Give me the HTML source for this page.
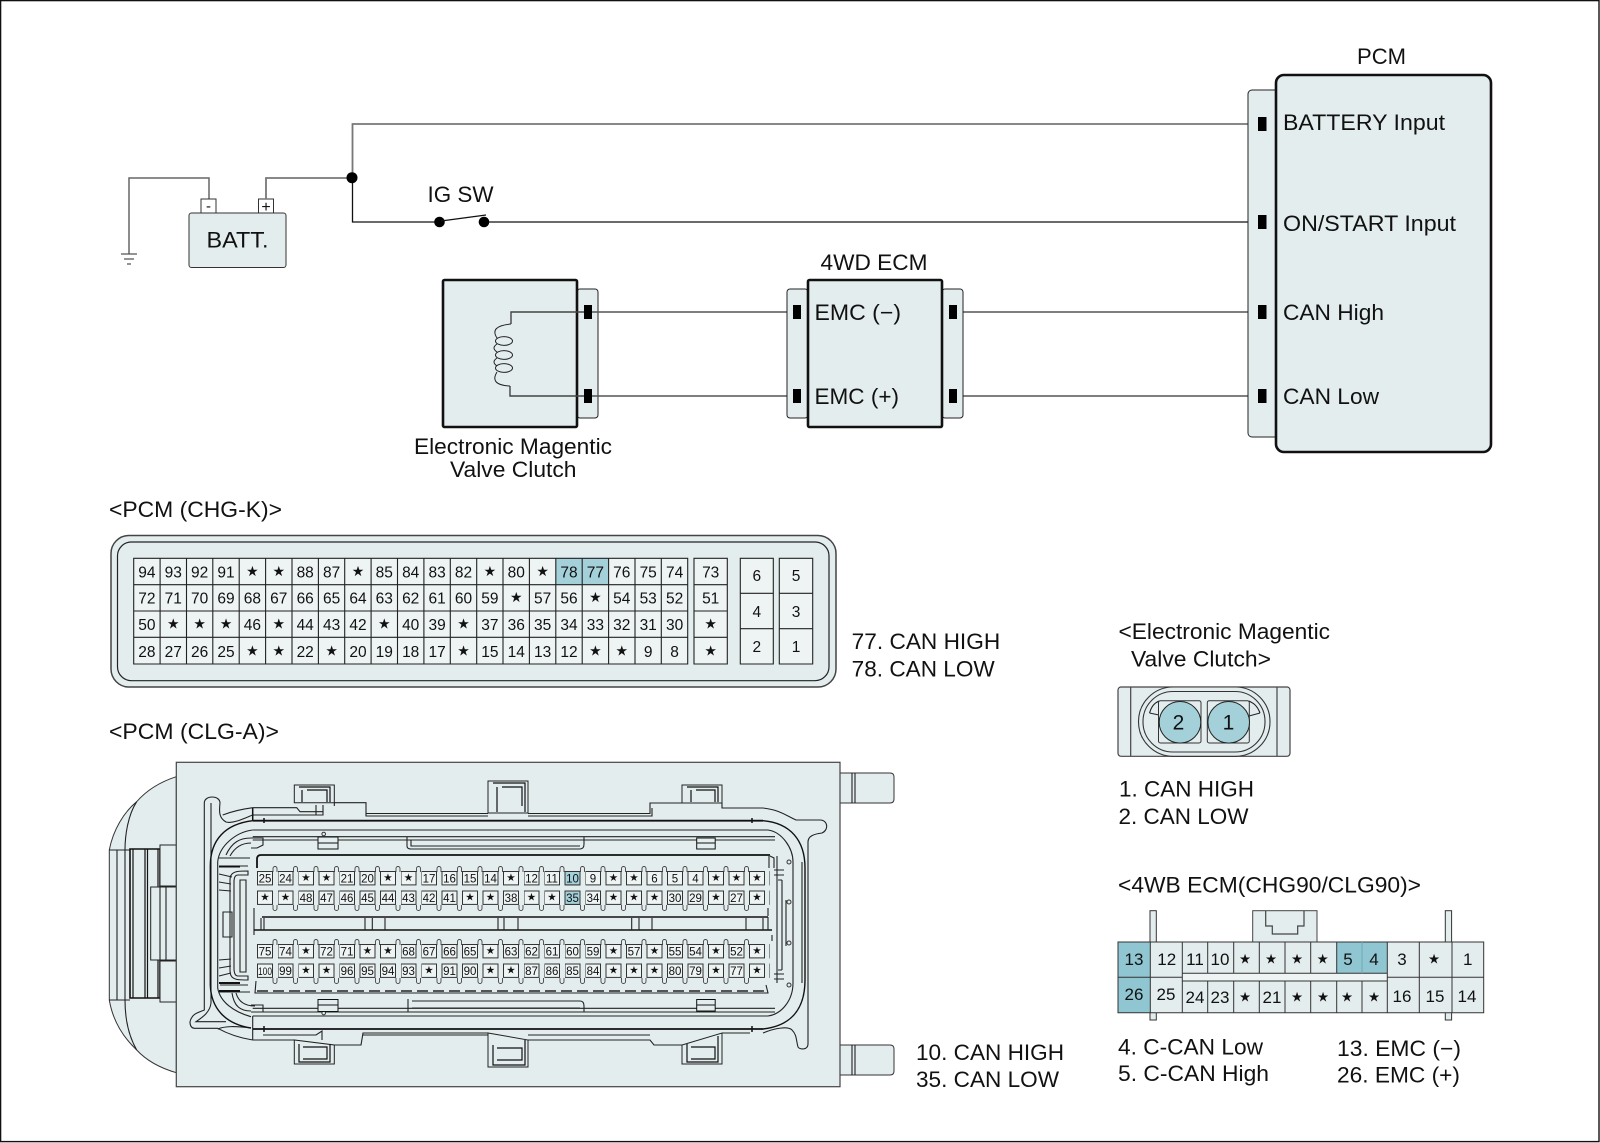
<!DOCTYPE html>
<html><head><meta charset="utf-8"><title>Diagram</title>
<style>
html,body{margin:0;padding:0;background:#fff}
svg{display:block}
text{font-family:"Liberation Sans",sans-serif;fill:#111}
.t{font-size:22px}
.k{fill:#e4edee;stroke:#222;stroke-width:1}
.b{fill:#e4edee;stroke:#111;stroke-width:2.6}
.l{fill:none;stroke:#222;stroke-width:1.1}
.m{text-anchor:middle}
.s{font-family:"DejaVu Sans",sans-serif;transform:translateY(-1.5px)}
.g1{font-size:15.5px;text-anchor:middle}.g1 .s{font-size:14px}
.g2{font-size:11.5px;text-anchor:middle}.g2 .s{font-size:10.5px}
.g3{font-size:17px;text-anchor:middle}.g3 .s{font-size:13.5px}
</style></head><body>
<svg xmlns="http://www.w3.org/2000/svg" width="1600" height="1143" viewBox="0 0 1600 1143">
<defs>
<pattern id="p" patternUnits="userSpaceOnUse" x="257" y="0" width="20.5" height="14.4"><rect x=".5" y=".5" width="15" height="13.4" fill="#eef3f3" stroke="#333" stroke-width="1"/></pattern>
<pattern id="u" patternUnits="userSpaceOnUse" x="257" y="0" width="20.5" height="6"><path d="M16 6V2.500a2 2 0 0 1 4 0V6" fill="none" stroke="#444" stroke-width=".9"/></pattern>
<pattern id="d" patternUnits="userSpaceOnUse" x="257" y="0" width="20.5" height="6"><path d="M16 0V3.500a2 2 0 0 0 4 0V0" fill="none" stroke="#444" stroke-width=".9"/></pattern>
</defs>
<rect width="1600" height="1143" fill="#fff"/>
<rect x=".6" y=".6" width="1598.400" height="1141" fill="none" stroke="#111" stroke-width="1.400"/>

<!-- battery and wiring -->
<path d="M129 254V178H209V199" fill="none" stroke="#666" stroke-width="1.500"/>
<path d="M121 254H137M124 259H134M127 264H131" fill="none" stroke="#555" stroke-width="1.300"/>
<rect x="201" y="199" width="15" height="14" fill="#fff" stroke="#333"/>
<rect x="258.500" y="199" width="15" height="14" fill="#fff" stroke="#333"/>
<text x="208.500" y="211" class="m" font-size="15">-</text>
<text x="266" y="212" class="m" font-size="16">+</text>
<rect x="189" y="213" width="97" height="54.500" rx="2.500" fill="#e4edee" stroke="#333"/>
<text x="206.500" y="247.700" class="t" textLength="62" lengthAdjust="spacingAndGlyphs">BATT.</text>
<path d="M266 199V178H352M352.500 178V124H1260" fill="none" stroke="#777" stroke-width="1.800"/>
<path d="M352.500 178V222H439M484 222H1260" fill="none" stroke="#111" stroke-width="1.300"/>
<ellipse cx="352" cy="177.700" rx="5.500" ry="5.500" fill="#000"/>
<circle cx="439.500" cy="222" r="5.300" fill="#000"/>
<circle cx="484" cy="222" r="5.300" fill="#000"/>
<path d="M441 221L486 215" stroke="#111" stroke-width="1.300"/>
<text x="427.500" y="202" class="t" textLength="66" lengthAdjust="spacingAndGlyphs">IG SW</text>

<!-- valve clutch -->
<rect x="577" y="289" width="21" height="129" rx="3" class="k"/>
<rect x="443" y="280" width="134" height="147" rx="1.500" class="b"/>
<path d="M590 312H511V324M590 396H510V386" fill="none" stroke="#444" stroke-width="1.400"/>
<path d="M511 324Q489 326 497 338M497 344Q491 348 497 352M497 358Q491 362 497 366M497 372Q489 385 510 386" fill="none" stroke="#222"/>
<ellipse cx="504" cy="341" rx="8.500" ry="4.400" fill="none" stroke="#222"/>
<ellipse cx="504" cy="355" rx="8.500" ry="4.400" fill="none" stroke="#222"/>
<ellipse cx="504" cy="368" rx="8.500" ry="4.400" fill="none" stroke="#222"/>
<rect x="584" y="305" width="8" height="14" fill="#000"/>
<rect x="584" y="389" width="8" height="14" fill="#000"/>
<text x="414" y="454" class="t" textLength="198" lengthAdjust="spacingAndGlyphs">Electronic Magentic</text>
<text x="450" y="477" class="t" textLength="126.500" lengthAdjust="spacingAndGlyphs">Valve Clutch</text>

<!-- ECM -->
<path d="M592 312H796M592 396H796M957 312H1260M957 396H1260" fill="none" stroke="#555" stroke-width="1.500"/>
<rect x="787" y="289" width="21" height="129" rx="3" class="k"/>
<rect x="942" y="289" width="21" height="129" rx="3" class="k"/>
<rect x="808" y="280" width="134" height="147" rx="1.500" class="b"/>
<rect x="793" y="305" width="8" height="14" fill="#000"/>
<rect x="793" y="389" width="8" height="14" fill="#000"/>
<rect x="949" y="305" width="8" height="14" fill="#000"/>
<rect x="949" y="389" width="8" height="14" fill="#000"/>
<text x="820.500" y="270" class="t" textLength="107" lengthAdjust="spacingAndGlyphs">4WD ECM</text>
<text x="814.500" y="320" class="t" textLength="86.500" lengthAdjust="spacingAndGlyphs">EMC (−)</text>
<text x="814.500" y="404" class="t" textLength="84.500" lengthAdjust="spacingAndGlyphs">EMC (+)</text>

<!-- PCM -->
<rect x="1248" y="90" width="35" height="347" rx="4" class="k"/>
<rect x="1276" y="75" width="215" height="377" rx="8" class="b"/>
<rect x="1258" y="117" width="8.500" height="14" fill="#000"/>
<rect x="1258" y="215" width="8.500" height="14" fill="#000"/>
<rect x="1258" y="305" width="8.500" height="14" fill="#000"/>
<rect x="1258" y="389" width="8.500" height="14" fill="#000"/>
<text x="1357" y="64" class="t" textLength="49" lengthAdjust="spacingAndGlyphs">PCM</text>
<text x="1283" y="130" class="t" textLength="162" lengthAdjust="spacingAndGlyphs">BATTERY Input</text>
<text x="1283" y="231" class="t" textLength="173" lengthAdjust="spacingAndGlyphs">ON/START Input</text>
<text x="1283" y="320" class="t" textLength="101" lengthAdjust="spacingAndGlyphs">CAN High</text>
<text x="1283" y="404" class="t" textLength="96" lengthAdjust="spacingAndGlyphs">CAN Low</text>

<!-- PCM CHG-K -->
<text x="109" y="517" class="t" textLength="173" lengthAdjust="spacingAndGlyphs">&lt;PCM (CHG-K)&gt;</text>
<rect x="111" y="535.500" width="725" height="151.500" rx="18" fill="#e4edee" stroke="#444" stroke-width="1.500"/>
<rect x="117.500" y="542" width="711.500" height="138.700" rx="14" fill="#e4edee" stroke="#222" stroke-width="1.200"/>
<rect x="133.700" y="558.300" width="554" height="105.700" fill="#eef3f3"/>
<rect x="555.500" y="558.300" width="52.800" height="26.400" fill="#a4d0da"/>
<path class="l" d="M133.700 558.300H687.700V664H133.700ZM133.700 584.700H687.700M133.700 611H687.700M133.700 637.300H687.700M160.100 558.300V664M186.500 558.300V664M212.800 558.300V664M239.200 558.300V664M265.600 558.300V664M292 558.300V664M318.400 558.300V664M344.700 558.300V664M371.100 558.300V664M397.500 558.300V664M423.900 558.300V664M450.300 558.300V664M476.700 558.300V664M503 558.300V664M529.400 558.300V664M555.800 558.300V664M582.200 558.300V664M608.600 558.300V664M635 558.300V664M661.300 558.300V664"/>
<path class="l" style="fill:#eef3f3" d="M694 558.300H727.300V664H694Z"/>
<path class="l" d="M694 584.700H727.300M694 611H727.300M694 637.300H727.300"/>
<path class="l" style="fill:#eef3f3" d="M740.300 558.300H773.300V664H740.300ZM779.300 558.300H812.700V664H779.300Z"/>
<path class="l" d="M740.300 593.300H773.300M740.300 628.700H773.300M779.300 593.300H812.700M779.300 628.700H812.700"/>
<g class="g1" transform="translate(0,577.300)"><text x="146.900">94</text><text x="173.300">93</text><text x="199.600">92</text><text x="226">91</text><text x="252.400" class="s">★</text><text x="278.800" class="s">★</text><text x="305.200">88</text><text x="331.600">87</text><text x="358" class="s">★</text><text x="384.300">85</text><text x="410.700">84</text><text x="437.100">83</text><text x="463.500">82</text><text x="489.900" class="s">★</text><text x="516.300">80</text><text x="542.600" class="s">★</text><text x="569">78</text><text x="595.400">77</text><text x="621.800">76</text><text x="648.200">75</text><text x="674.600">74</text><text x="710.700">73</text></g>
<g class="g1" transform="translate(0,603.500)"><text x="146.900">72</text><text x="173.300">71</text><text x="199.600">70</text><text x="226">69</text><text x="252.400">68</text><text x="278.800">67</text><text x="305.200">66</text><text x="331.600">65</text><text x="358">64</text><text x="384.300">63</text><text x="410.700">62</text><text x="437.100">61</text><text x="463.500">60</text><text x="489.900">59</text><text x="516.300" class="s">★</text><text x="542.600">57</text><text x="569">56</text><text x="595.400" class="s">★</text><text x="621.800">54</text><text x="648.200">53</text><text x="674.600">52</text><text x="710.700">51</text></g>
<g class="g1" transform="translate(0,630)"><text x="146.900">50</text><text x="173.300" class="s">★</text><text x="199.600" class="s">★</text><text x="226" class="s">★</text><text x="252.400">46</text><text x="278.800" class="s">★</text><text x="305.200">44</text><text x="331.600">43</text><text x="358">42</text><text x="384.300" class="s">★</text><text x="410.700">40</text><text x="437.100">39</text><text x="463.500" class="s">★</text><text x="489.900">37</text><text x="516.300">36</text><text x="542.600">35</text><text x="569">34</text><text x="595.400">33</text><text x="621.800">32</text><text x="648.200">31</text><text x="674.600">30</text><text x="710.700" class="s">★</text></g>
<g class="g1" transform="translate(0,657)"><text x="146.900">28</text><text x="173.300">27</text><text x="199.600">26</text><text x="226">25</text><text x="252.400" class="s">★</text><text x="278.800" class="s">★</text><text x="305.200">22</text><text x="331.600" class="s">★</text><text x="358">20</text><text x="384.300">19</text><text x="410.700">18</text><text x="437.100">17</text><text x="463.500" class="s">★</text><text x="489.900">15</text><text x="516.300">14</text><text x="542.600">13</text><text x="569">12</text><text x="595.400" class="s">★</text><text x="621.800" class="s">★</text><text x="648.200">9</text><text x="674.600">8</text><text x="710.700" class="s">★</text></g>
<g class="g1"><text x="756.800" y="581">6</text><text x="796" y="581">5</text><text x="756.800" y="617">4</text><text x="796" y="617">3</text><text x="756.800" y="652">2</text><text x="796" y="652">1</text></g>
<text x="851.700" y="649" class="t" textLength="148.500" lengthAdjust="spacingAndGlyphs">77. CAN HIGH</text>
<text x="851.700" y="676.700" class="t" textLength="143" lengthAdjust="spacingAndGlyphs">78. CAN LOW</text>

<!-- PCM CLG-A -->
<text x="109" y="739" class="t" textLength="170" lengthAdjust="spacingAndGlyphs">&lt;PCM (CLG-A)&gt;</text>
<path d="M176.300 776.700C160 782 146 791 136.700 801.700C124 812 113 830 109.300 850V1000C113 1022 124 1038 136.700 1050C146 1060 160 1068 176.300 1072.700Z" fill="#e4edee" stroke="#333"/>
<path class="l" d="M136.700 801.700C128 815 125 835 125 850V1000C125 1018 128 1035 136.700 1050M109.300 850H130M109.300 1000H130M117 850V1000"/>
<path d="M130 849H160V998H130Z" fill="#e4edee" stroke="#111" stroke-width="1.600"/>
<path d="M133 849V998M145 849V998M147.500 849V998M158 849V998" stroke="#111" stroke-width="1.200" fill="none"/>
<rect x="160" y="845" width="16.300" height="41" class="k"/><rect x="160" y="961" width="16.300" height="41" class="k"/>
<rect x="150.700" y="887" width="25.600" height="73" class="k"/>
<path class="l" d="M160 887V960M166 887V960"/>
<path d="M840 773H890Q894 773 894 777V799Q894 803 890 803H840ZM840 1045H890Q894 1045 894 1049V1071Q894 1075 890 1075H840Z" fill="#e4edee" stroke="#333"/>
<path class="l" d="M852 773V803M855 773V803M852 1045V1075M855 1045V1075"/>
<rect x="176.300" y="762.300" width="663.700" height="324.400" fill="#e4edee" stroke="#444" stroke-width="1.200"/>

<!-- plate tabs -->
<path class="k" d="M294.300 802.700V785H334.300V802.700ZM488 813V781H528V813ZM682 803V785H722V803ZM294.300 1040V1064H334.300V1045ZM488 1033V1067H528V1040ZM682 1045V1064H722V1033Z"/>
<path d="M299 787H330V802M302 790V802M307 790H327V802M493 783H525V812M497 787V812M502 787H522V806M687 787H718V802M691 790V802M696 790H715V802M299 1044V1062H330V1044M303 1047H327V1059H303M493 1045V1065H525V1040M497 1048H522V1060H497M687 1044V1062H718V1036M691 1047H715V1059H691" fill="none" stroke="#111" stroke-width="1.200"/>

<!-- housing -->
<path class="l" d="M252.700 807.700H296.700L300 811.700H322.700M334.300 802.700H366V813.500H488M528 813.500H650V803H682M722 803V808H763M252.700 815H316M316 805V815H323V805M334.300 802.700V806M366 813.500V816H488M528 816H652V808"/>
<path class="l" d="M252.700 1040H294.300M334.300 1045H361L363 1033H488M528 1040H650L654 1045H682M722 1033H750M252.700 1016V1040M263 1035H316L322 1031V1040M363 1035H488M528 1035H650"/>
<path d="M252.700 807.700V820.700M264 818V823M264 1026V1032M752 818V823M752 1026V1032" stroke="#111" stroke-width="1.500" fill="none"/>
<path d="M252.700 820.700H763M252.700 1029H763" stroke="#111" stroke-width="1.800" fill="none"/>
<path class="l" d="M252.700 830H768M252.700 836.700H775M252.700 840H775M252.700 1008.300H775M252.700 1012H775M252.700 1016H768"/>
<path class="l" d="M220 803C219 812 219 818 226 822C233 824 245 818 252.700 815M222.700 815C233 811 243 809 252.700 807.700M220 803C220 795 204.300 795 204.300 803V1010C200 1012 192 1013 190 1021.700C190 1026 192 1028 194.300 1028.300H217.700C228 1034 240 1038 252.700 1040M211 803V1003C210 1012 203 1017 196 1021.700H226M217.700 1029C225 1026 235 1026 251 1028"/>
<path d="M252.700 820.700C225 824 210.300 840 210.300 866V985C211 1008 225 1024 251 1028M763 820.700C790 823 805 840 805 868V980C805 1010 790 1026 763 1029" fill="none" stroke="#111" stroke-width="1.400"/>
<path class="l" d="M252.700 830C236 832 219 846 217.700 862V988C220 1002 234 1012 251 1016.700M768 830C782 832 793 848 793 862V983C793 1000 782 1014 768 1016M763 808C780 810 785 815 796 820H820C828 820 829 830 822 833C814 834 808 836 808 842V1044C808 1050 800 1050 798 1047C796 1040 797 1035 792 1030C788 1026 775 1028 763 1033M802 862V983"/>
<circle cx="323.700" cy="834" r="1.800" fill="#e4edee" stroke="#333"/>
<circle cx="323.700" cy="1013" r="1.800" fill="#e4edee" stroke="#333"/>
<!-- left latch detail -->
<path class="l" d="M219 858H250M220 866H248M220 985H248M219 992H250M232 874C235 871 240 871 248 871V875H238C235 875 234 878 234 882V968C234 973 235 976 238 976H248V980C240 980 235 980 232 977C230 975 230 972 230 968V882C230 878 230 876 232 874ZM251 838C240 838 232 842 226 855M251 843C242 843 235 847 230 856M251 1011C240 1011 234 1006 232 993M255 1006C243 1006 238 1000 236 993M223 912H232V937H223ZM240 880H246V972H240ZM219 874L232 877M219 882L231 884M219 890L231 891M219 960L231 959M219 968L231 966M219 976L231 973"/>
<path d="M219 866.500H240M219 983H240M219 991H240" stroke="#111" stroke-width="2" fill="none"/>
<path class="l" d="M251 838H263V845L257 848H251M251 1005H263V1012H251"/>
<!-- slot brackets -->
<rect x="318" y="837" width="20" height="12" fill="#e4edee" stroke="#111"/><path d="M318 843H338" stroke="#111"/>
<rect x="318" y="999.500" width="20" height="12" fill="#e4edee" stroke="#111"/><path d="M318 1005H338" stroke="#111"/>
<rect x="696.700" y="838" width="18.500" height="11" fill="#e4edee" stroke="#111"/><path d="M696.700 843H715" stroke="#111"/>
<rect x="696.700" y="999.500" width="18.500" height="11.500" fill="#e4edee" stroke="#111"/><path d="M696.700 1005H715" stroke="#111"/>
<path class="l" d="M407 837V846Q407 849 411 849H580Q584 849 584 844V837M411 840V846H580M408 999V1012M412 1001H580Q584 1001 584 1006V1012M412 1008H580"/>
<!-- tray -->
<path d="M261 855H770M257 868V859Q257 855 261 855" stroke="#111" stroke-width="1.800" fill="none"/>
<path class="l" d="M769 856V868M770 856L774 858V868M254 908V935M768 908V916M772 935V941"/>
<path d="M262 917H768M254 930H772" stroke="#111" stroke-width="1.400" fill="none"/>
<path class="l" d="M261 918V930M264 918V930M365 918V930M372.300 918V930M385 918V930M498 918V930M504 918V930M518 918V930M631.700 918V930M639 918V930M652 918V930M746 918V930M763 918V930M768 917V930"/>
<path d="M257 991H768" stroke="#222" stroke-width="1.400" stroke-dasharray="11 5" fill="none"/>
<path class="l" d="M256 981L255 993H768L766 985"/>
<!-- right-hand inner detail -->
<path class="l" d="M777 856V983M782 880V970M782 880H778M782 970H778M786 900V946M774 870H784M774 875H784M774 974H784M774 979H784"/>
<circle cx="789" cy="902" r="2" fill="#e4edee" stroke="#333"/><circle cx="789" cy="943" r="2" fill="#e4edee" stroke="#333"/>
<circle cx="789" cy="862" r="2" fill="#e4edee" stroke="#333"/><circle cx="789" cy="985" r="2" fill="#e4edee" stroke="#333"/>
<!-- small bumps -->
<rect x="257" y="0" width="492" height="6" fill="url(#u)" transform="translate(0,866)"/>
<rect x="257" y="0" width="492" height="6" fill="url(#d)" transform="translate(0,905)"/>
<rect x="257" y="0" width="492" height="6" fill="url(#u)" transform="translate(0,939)"/>
<rect x="257" y="0" width="492" height="6" fill="url(#d)" transform="translate(0,978)"/>
<rect x="257" y="0" width="513" height="14.400" fill="url(#p)" transform="translate(0,871)"/>
<rect x="257" y="0" width="513" height="14.400" fill="url(#p)" transform="translate(0,890.500)"/>
<rect x="257" y="0" width="513" height="14.400" fill="url(#p)" transform="translate(0,944)"/>
<rect x="257" y="0" width="513" height="14.400" fill="url(#p)" transform="translate(0,963.500)"/>
<rect x="565" y="871.500" width="15" height="13.400" fill="#a4d0da" stroke="#333"/>
<rect x="565" y="891" width="15" height="13.400" fill="#a4d0da" stroke="#333"/>
<g class="g2" transform="translate(0,882.500)"><text x="265">25</text><text x="285.500">24</text><text x="306" class="s">★</text><text x="326.500" class="s">★</text><text x="347">21</text><text x="367.500">20</text><text x="388" class="s">★</text><text x="408.500" class="s">★</text><text x="429">17</text><text x="449.500">16</text><text x="470">15</text><text x="490.500">14</text><text x="511" class="s">★</text><text x="531.500">12</text><text x="552">11</text><text x="572.500">10</text><text x="593">9</text><text x="613.500" class="s">★</text><text x="634" class="s">★</text><text x="654.500">6</text><text x="675">5</text><text x="695.500">4</text><text x="716" class="s">★</text><text x="736.500" class="s">★</text><text x="757" class="s">★</text></g>
<g class="g2" transform="translate(0,902)"><text x="265" class="s">★</text><text x="285.500" class="s">★</text><text x="306">48</text><text x="326.500">47</text><text x="347">46</text><text x="367.500">45</text><text x="388">44</text><text x="408.500">43</text><text x="429">42</text><text x="449.500">41</text><text x="470" class="s">★</text><text x="490.500" class="s">★</text><text x="511">38</text><text x="531.500" class="s">★</text><text x="552" class="s">★</text><text x="572.500">35</text><text x="593">34</text><text x="613.500" class="s">★</text><text x="634" class="s">★</text><text x="654.500" class="s">★</text><text x="675">30</text><text x="695.500">29</text><text x="716" class="s">★</text><text x="736.500">27</text><text x="757" class="s">★</text></g>
<g class="g2" transform="translate(0,955.500)"><text x="265">75</text><text x="285.500">74</text><text x="306" class="s">★</text><text x="326.500">72</text><text x="347">71</text><text x="367.500" class="s">★</text><text x="388" class="s">★</text><text x="408.500">68</text><text x="429">67</text><text x="449.500">66</text><text x="470">65</text><text x="490.500" class="s">★</text><text x="511">63</text><text x="531.500">62</text><text x="552">61</text><text x="572.500">60</text><text x="593">59</text><text x="613.500" class="s">★</text><text x="634">57</text><text x="654.500" class="s">★</text><text x="675">55</text><text x="695.500">54</text><text x="716" class="s">★</text><text x="736.500">52</text><text x="757" class="s">★</text></g>
<g class="g2" transform="translate(0,975)"><text x="265" font-size="11" textLength="14" lengthAdjust="spacingAndGlyphs">100</text><text x="285.500">99</text><text x="306" class="s">★</text><text x="326.500" class="s">★</text><text x="347">96</text><text x="367.500">95</text><text x="388">94</text><text x="408.500">93</text><text x="429" class="s">★</text><text x="449.500">91</text><text x="470">90</text><text x="490.500" class="s">★</text><text x="511" class="s">★</text><text x="531.500">87</text><text x="552">86</text><text x="572.500">85</text><text x="593">84</text><text x="613.500" class="s">★</text><text x="634" class="s">★</text><text x="654.500" class="s">★</text><text x="675">80</text><text x="695.500">79</text><text x="716" class="s">★</text><text x="736.500">77</text><text x="757" class="s">★</text></g>
<text x="916" y="1060" class="t" textLength="148" lengthAdjust="spacingAndGlyphs">10. CAN HIGH</text>
<text x="916" y="1087" class="t" textLength="143" lengthAdjust="spacingAndGlyphs">35. CAN LOW</text>

<!-- valve connector -->
<text x="1118.500" y="639" class="t" textLength="211.500" lengthAdjust="spacingAndGlyphs">&lt;Electronic Magentic</text>
<text x="1131" y="666.700" class="t" textLength="140" lengthAdjust="spacingAndGlyphs">Valve Clutch&gt;</text>
<rect x="1118" y="687" width="172" height="69.300" rx="3" fill="#e4edee" stroke="#444" stroke-width="1.200"/>
<path d="M1130.700 687V756.300M1277 687V756.300M1199.300 687V692M1210 687V692M1199.300 751V756.300M1210 751V756.300" stroke="#444" stroke-width="1.200" fill="none"/>
<rect x="1138.500" y="687" width="131.500" height="69.300" rx="34.600" fill="#e4edee" stroke="#333" stroke-width="1.100"/>
<rect x="1143" y="691.500" width="122" height="60.500" rx="30" fill="#e4edee" stroke="#333" stroke-width="1.100"/>
<path class="l" d="M1149.500 713C1152 705 1155 703 1159 701M1149.500 713L1159 715M1260 713C1257 705 1253 703 1249 701M1260 713L1249 716"/>
<rect x="1158.500" y="700.700" width="42.500" height="42.300" rx="2" fill="#e4edee" stroke="#333"/>
<rect x="1207.300" y="700.700" width="42" height="42.300" rx="2" fill="#e4edee" stroke="#333"/>
<circle cx="1180" cy="722.300" r="20.800" fill="#a4d0da" stroke="#222"/>
<circle cx="1228.700" cy="722.300" r="20.800" fill="#a4d0da" stroke="#222"/>
<text x="1178.500" y="729.500" class="m" font-size="21">2</text>
<text x="1228.500" y="729.500" class="m" font-size="21">1</text>
<text x="1119" y="796.700" class="t" textLength="135" lengthAdjust="spacingAndGlyphs">1. CAN HIGH</text>
<text x="1118.500" y="824" class="t" textLength="130" lengthAdjust="spacingAndGlyphs">2. CAN LOW</text>

<!-- 4WB -->
<text x="1118" y="892.300" class="t" textLength="303" lengthAdjust="spacingAndGlyphs">&lt;4WB ECM(CHG90/CLG90)&gt;</text>
<rect x="1150" y="910.700" width="6.300" height="109.300" fill="#e4edee" stroke="#333"/>
<rect x="1445.300" y="910.700" width="6.300" height="109.300" fill="#e4edee" stroke="#333"/>
<rect x="1252.700" y="910.700" width="64.300" height="31.300" fill="#e4edee" stroke="#444"/>
<path d="M1265.700 910.700V926H1272.300V934H1297.700V926H1304V910.700" fill="none" stroke="#444" stroke-width="1.200"/>
<rect x="1118" y="942" width="365.700" height="70.700" fill="#e4edee"/>
<rect x="1118" y="942" width="32.300" height="70.700" fill="#8fc6d1"/>
<rect x="1336.700" y="942" width="50.600" height="31.300" fill="#8fc6d1"/>
<rect x="1182.300" y="973.300" width="205" height="7.700" fill="#eef3f3"/>
<path d="M1118 942H1483.700V1012.700H1118ZM1118 977.300H1182.300M1182.300 973.300H1387.300M1182.300 981H1387.300M1387.300 977.300H1483.700M1150.300 942V1012.700M1182.300 942V1012.700M1207.700 942V973.300M1207.700 981V1012.700M1233.700 942V973.300M1233.700 981V1012.700M1259.300 942V973.300M1259.300 981V1012.700M1285 942V973.300M1285 981V1012.700M1310.700 942V973.300M1310.700 981V1012.700M1336.700 942V973.300M1336.700 981V1012.700M1362 981V1012.700M1387.300 942V1012.700M1419.300 942V1012.700M1452 942V1012.700" fill="none" stroke="#333" stroke-width="1"/>
<path d="M1362 942V973.300" stroke="#6fa8b4" stroke-width="1"/>
<g class="g3" transform="translate(0,965)"><text x="1134">13</text><text x="1166.700">12</text><text x="1195">11</text><text x="1220">10</text><text x="1245" class="s">★</text><text x="1271" class="s">★</text><text x="1297" class="s">★</text><text x="1322.700" class="s">★</text><text x="1348">5</text><text x="1374">4</text><text x="1402">3</text><text x="1434" class="s">★</text><text x="1467.700">1</text></g>
<g class="g3" transform="translate(0,1000)"><text x="1134">26</text><text x="1166">25</text></g>
<g class="g3" transform="translate(0,1003)"><text x="1195">24</text><text x="1220">23</text><text x="1245" class="s">★</text><text x="1272">21</text><text x="1297" class="s">★</text><text x="1323" class="s">★</text><text x="1347" class="s">★</text><text x="1374" class="s">★</text></g>
<g class="g3" transform="translate(0,1002)"><text x="1402">16</text><text x="1435">15</text><text x="1467">14</text></g>
<text x="1118" y="1054.300" class="t" textLength="145" lengthAdjust="spacingAndGlyphs">4. C-CAN Low</text>
<text x="1118" y="1081" class="t" textLength="151" lengthAdjust="spacingAndGlyphs">5. C-CAN High</text>
<text x="1337" y="1056" class="t" textLength="124" lengthAdjust="spacingAndGlyphs">13. EMC (−)</text>
<text x="1337" y="1082.700" class="t" textLength="123" lengthAdjust="spacingAndGlyphs">26. EMC (+)</text>
</svg>
</body></html>
